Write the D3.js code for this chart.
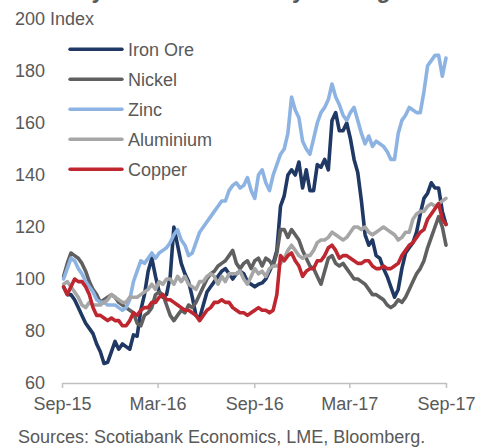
<!DOCTYPE html>
<html>
<head>
<meta charset="utf-8">
<script src="https://cdn.jsdelivr.net/npm/d3@7"></script>
<style>
  body { margin: 0; background: #fff; }
  svg { display: block; }
  text { font-family: "Liberation Sans", Arial, sans-serif; }
</style>
</head>
<body>
<svg id="chart" width="477" height="448"></svg>
<script>
// Weekly index levels (Sep 2015 = 100), one reading per Friday
const firstFriday = "2015-09-04";
const lastFriday = "2017-09-01";

const seriesNames = ["Iron Ore", "Nickel", "Zinc", "Aluminium", "Copper"];
const seriesColors = ["#1f3864", "#606060", "#8db3e2", "#a6a6a6", "#be2630"];

const ironOre = [
  97, 94, 94, 92, 89, 86, 83, 81, 79, 75,
  72, 67.5, 68, 72, 76, 73, 75, 74, 73, 78.5,
  78, 88, 94, 103, 108, 101, 95, 93, 94, 101,
  120, 113, 106, 102, 99, 93, 86, 85, 90, 95,
  97, 99, 101, 103, 104, 102, 100, 102, 103, 102,
  99, 98, 97, 98, 98.5, 100, 103, 106, 111, 128,
  132, 140, 142, 140, 145, 135, 142, 134, 134, 144,
  143, 146, 142, 161, 164, 157, 157, 160, 154, 146,
  141, 130, 117, 113, 115, 109, 108, 104, 101, 97,
  93, 96, 104, 110, 112, 114, 118, 125, 131, 133,
  137, 135, 135, 126, 121
];

const nickel = [
  101, 106, 110, 109, 108, 106, 103, 99, 96, 94,
  91, 92, 93, 94, 93, 91, 90, 89, 88, 87,
  83, 82, 86, 87, 89, 94, 95, 94, 90, 86,
  84, 86, 88, 87, 90, 89, 91, 94, 97, 100,
  102, 103, 105, 106, 107, 109, 111, 106, 104, 106,
  107, 104, 107, 108, 105, 108, 107, 105, 110, 119,
  119, 116, 119, 117, 115, 111, 108, 105, 104, 101,
  98, 103, 108, 109, 106, 105, 106, 104, 102, 100,
  100, 99, 98, 96, 94, 94, 93, 92, 90, 89,
  90, 92, 91, 93, 96, 99, 102, 104, 107, 112,
  116, 120, 124, 120, 113
];

const zinc = [
  100, 104, 108, 107, 104, 102, 99, 97, 95, 92,
  91, 91, 90, 90, 90, 89, 88, 89, 92, 99,
  103, 107, 106, 108, 110, 108, 110, 111, 112, 114,
  117, 119, 115, 113, 109, 110, 114, 118, 120, 122,
  124, 126, 128, 130, 130, 134, 136, 137, 135, 136,
  139, 134, 131, 140, 142, 137, 134, 140, 144, 148,
  150, 156, 170, 165, 162, 153, 150, 148, 154, 160,
  164, 166, 169, 175, 170, 167, 163, 161, 164, 166,
  161, 156, 152, 155, 151, 153, 152, 151, 149, 146,
  146, 156, 161, 163, 166, 165, 164, 164, 172, 182,
  184, 186, 186, 178, 185
];

const aluminium = [
  98, 99, 97, 95, 93, 90, 89, 91, 90, 90,
  90, 91, 92, 94, 93, 92, 91, 91, 93, 93,
  93, 94, 95, 96, 98, 96, 99, 98, 100, 100,
  98, 101, 99, 101, 98, 97, 96, 99, 99, 101,
  102, 101, 98, 101, 99, 102, 102, 102, 103, 100,
  98, 101, 104, 102, 103, 101, 104, 105, 105, 106,
  108, 111, 113, 111, 109, 108, 109, 109, 111, 114,
  115, 115, 116, 118, 117, 116, 115, 116, 118, 120,
  120, 119, 120, 118, 117, 118, 119, 120, 119, 118,
  117, 115, 116, 118, 118, 123, 125, 126, 126, 128,
  129, 128, 129, 130, 131
];

const copper = [
  97, 94, 97, 100, 99, 99, 97, 94, 89, 86,
  86, 85, 84, 85, 84, 84, 82, 82, 84, 87,
  86, 88, 89, 89, 91, 91, 93, 94, 92, 92,
  91, 90, 89, 88, 88, 87, 86, 84, 86, 88,
  89, 91, 91, 92, 91, 91, 89, 88, 87, 87,
  86, 87, 88, 89, 88, 88, 87, 88, 94, 109,
  107, 109, 110, 107, 105, 101, 103, 104, 104, 107,
  107, 109, 112, 113, 111, 108, 109, 109, 108, 107,
  106, 106, 107, 107, 105, 104, 104, 105, 104, 104,
  105, 106, 109, 111, 113, 114, 116, 118, 119, 123,
  125, 127, 129, 123, 121
];

const yTickValues = [60, 80, 100, 120, 140, 160, 180, 200];
const xTickDates = ["2015-09-01", "2016-03-01", "2016-09-01", "2017-03-01", "2017-09-01"];
const xTickLabels = ["Sep-15", "Mar-16", "Sep-16", "Mar-17", "Sep-17"];

const titleText = "Key Base Metals Rally Through 2017";
const unitLabel = "Index";
const sourceText = "Sources: Scotiabank Economics, LME, Bloomberg.";

// ---- drawing ----
const parse = d3.timeParse("%Y-%m-%d");
const weeks = d3.timeFriday.range(parse(firstFriday), d3.timeDay.offset(parse(lastFriday), 1));
const allSeries = [ironOre, nickel, zinc, aluminium, copper];

const svg = d3.select("#chart");
const textColor = "#595959";

const x = d3.scaleTime()
  .domain([parse(xTickDates[0]), parse(xTickDates[xTickDates.length - 1])])
  .range([62, 446]);
const y = d3.scaleLinear().domain([60, 200]).range([383, 19]);

// chart title sits above the frame; only its lowest strokes fall inside
svg.append("text")
  .attr("x", 62).attr("y", -2)
  .attr("font-size", 23).attr("font-weight", "bold")
  .attr("fill", "#5a5a5a")
  .text(titleText);

// y axis labels (no axis line)
const yAxis = d3.axisLeft(y).tickValues(yTickValues).tickSize(0).tickPadding(0);
const gy = svg.append("g").attr("transform", "translate(45,0)").call(yAxis);
gy.select(".domain").remove();
gy.selectAll("text")
  .attr("font-size", 18).attr("fill", textColor)
  .attr("font-family", "'Liberation Sans', Arial, sans-serif");

svg.append("text")
  .attr("x", 50).attr("y", y(200)).attr("dy", "0.32em")
  .attr("font-size", 18).attr("fill", textColor)
  .text(unitLabel);

// x axis along the bottom
const xAxis = d3.axisBottom(x)
  .tickValues(xTickDates.map(parse))
  .tickFormat((d, i) => xTickLabels[i])
  .tickSizeInner(5).tickSizeOuter(0).tickPadding(9);
const gx = svg.append("g").attr("transform", `translate(0,${y(60)})`).call(xAxis);
gx.select(".domain").attr("stroke", "#bfbfbf").attr("stroke-width", 1.5);
gx.selectAll(".tick line").attr("stroke", "#bfbfbf").attr("stroke-width", 1.5);
gx.selectAll("text")
  .attr("font-size", 18).attr("fill", textColor)
  .attr("font-family", "'Liberation Sans', Arial, sans-serif");

// series lines
const line = d3.line()
  .x((d, i) => x(weeks[i]))
  .y(d => y(d));

svg.append("g").selectAll("path")
  .data(allSeries)
  .join("path")
  .attr("d", line)
  .attr("fill", "none")
  .attr("stroke", (d, i) => seriesColors[i])
  .attr("stroke-width", 3.6)
  .attr("stroke-linejoin", "round")
  .attr("stroke-linecap", "round");

// legend
const legend = svg.append("g");
const legendRows = legend.selectAll("g")
  .data(seriesNames)
  .join("g")
  .attr("transform", (d, i) => `translate(0,${49.3 + i * 30})`);
legendRows.append("line")
  .attr("x1", 70).attr("x2", 122)
  .attr("stroke", (d, i) => seriesColors[i])
  .attr("stroke-width", 3.4)
  .attr("stroke-linecap", "round");
legendRows.append("text")
  .attr("x", 128).attr("dy", "0.35em")
  .attr("font-size", 18).attr("fill", textColor)
  .text(d => d);

// source note
svg.append("text")
  .attr("x", 18).attr("y", 443)
  .attr("font-size", 18).attr("fill", textColor)
  .text(sourceText);
</script>
</body>
</html>
